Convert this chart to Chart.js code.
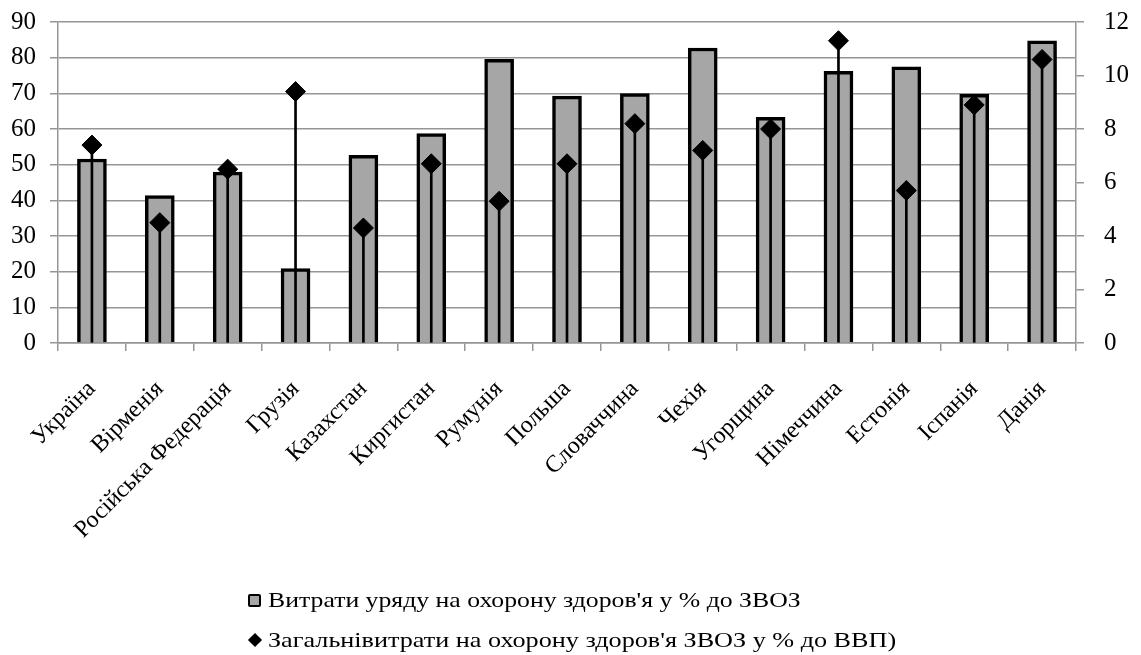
<!DOCTYPE html>
<html lang="uk">
<head>
<meta charset="utf-8">
<title>Витрати на охорону здоров'я</title>
<script src="https://cdn.jsdelivr.net/npm/chart.js@4.4.1/dist/chart.umd.min.js"></script>
<style>
    html, body { margin: 0; padding: 0; background: #fff; }
    #wrap { position: relative; width: 1141px; height: 655px; }
    #legend {
        position: absolute; left: 248px; top: 580px;
        font-family: 'Liberation Serif', 'Times New Roman', serif;
        font-size: 22px; color: #000;
    }
    .item { display: flex; align-items: center; height: 40px; white-space: nowrap; }
    .item .txt { display: inline-block; transform: scaleX(1.17); transform-origin: left center; }
    .item .txt.wide { transform: scaleX(1.19); }
    .box { width: 9px; height: 9px; border: 2.5px solid #000; border-radius: 2px; background: #a6a6a6; margin-right: 7px; }
    .diam { width: 10px; height: 10px; background: #000; transform: rotate(45deg); margin: 0 8px 0 2px; }
</style>
</head>
<body>
<div id="wrap">
    <canvas id="myChart" width="1141" height="655"></canvas>
    <div id="legend"></div>
</div>
<script>
// dani z grafika
const countries = ['Україна', 'Вірменія', 'Російська Федерація', 'Грузія', 'Казахстан', 'Киргистан', 'Румунія',
    'Польша', 'Словаччина', 'Чехія', 'Угорщина', 'Німеччина', 'Естонія', 'Іспанія', 'Данія'];
const govShare = [51.6, 41.3, 47.9, 20.9, 52.6, 58.7, 79.5, 69.2, 69.9, 82.7, 63.3, 76.2, 77.4, 69.7, 84.7];
const totalGdp = [7.4, 4.5, 6.5, 9.4, 4.3, 6.7, 5.3, 6.7, 8.2, 7.2, 8.0, 11.3, 5.7, 8.9, 10.6];
const govLabel = "Витрати уряду на охорону здоров'я у % до ЗВОЗ";
const gdpLabel = "Загальнівитрати на охорону здоров'я ЗВОЗ у % до ВВП)";
const leftMax = 90, leftStep = 10;
const rightMax = 12, rightStep = 2;

const serif = "'Liberation Serif', 'Times New Roman', serif";
const gridGray = '#969696';

Chart.defaults.font.family = serif;
Chart.defaults.color = '#000';

// shyryna osi fiksovana, vidstup zverhu ne zalezhyt vid padding tikiv
function fixAxis(width) {
    return s => {
        s.width = width;
        s.paddingTop = 12;
        s.paddingBottom = 12;
    };
}

const ctx = document.getElementById('myChart');
const myChart = new Chart(ctx, {
    type: 'bar',
    data: {
        labels: countries,
        datasets: [
            {
                label: gdpLabel,
                type: 'line',
                data: totalGdp,
                yAxisID: 'y1',
                showLine: false,
                pointStyle: 'rectRot',
                pointRadius: 10,
                backgroundColor: '#000',
                borderColor: '#000',
                order: 1
            },
            {
                // vertikalni liniji vid tochky do osi
                label: '',
                data: totalGdp,
                yAxisID: 'y1',
                backgroundColor: '#000',
                barThickness: 2,
                grouped: false,
                order: 2
            },
            {
                label: govLabel,
                data: govShare,
                yAxisID: 'y',
                backgroundColor: '#a6a6a6',
                borderColor: '#000',
                borderWidth: 3.5,
                barThickness: 29,
                grouped: false,
                order: 3
            }
        ]
    },
    options: {
        responsive: false,
        animation: false,
        layout: { padding: { top: 22, left: 0, right: 0, bottom: 0 } },
        plugins: { legend: { display: false }, tooltip: { enabled: false } },
        scales: {
            x: {
                grid: { display: true, drawOnChartArea: false, tickLength: 8, color: gridGray, lineWidth: 1.5, offset: true },
                border: { color: gridGray, width: 1.5 },
                ticks: { font: { size: 24 }, maxRotation: 45, minRotation: 45, autoSkip: false, padding: 24 },
                afterFit: s => { s.height = 312; }
            },
            y: {
                position: 'left', min: 0, max: leftMax,
                ticks: { stepSize: leftStep, font: { size: 25 }, padding: 14 },
                grid: { color: gridGray, lineWidth: 1.5, tickLength: 8 },
                border: { color: gridGray, width: 1.5 },
                afterFit: fixAxis(58)
            },
            y1: {
                position: 'right', min: 0, max: rightMax,
                ticks: { stepSize: rightStep, font: { size: 25 }, padding: 20 },
                grid: { drawOnChartArea: false, color: gridGray, lineWidth: 1.5, tickLength: 8 },
                border: { color: gridGray, width: 1.5 },
                afterFit: fixAxis(65)
            }
        }
    }
});

// legenda v dva rjadky
const legend = document.getElementById('legend');
[govLabel, gdpLabel].forEach((txt, i) => {
    const row = document.createElement('div');
    row.className = 'item';
    row.innerHTML = `<span class="${i === 0 ? 'box' : 'diam'}"></span><span class="txt${i === 1 ? ' wide' : ''}">${txt}</span>`;
    legend.appendChild(row);
});
</script>
</body>
</html>
